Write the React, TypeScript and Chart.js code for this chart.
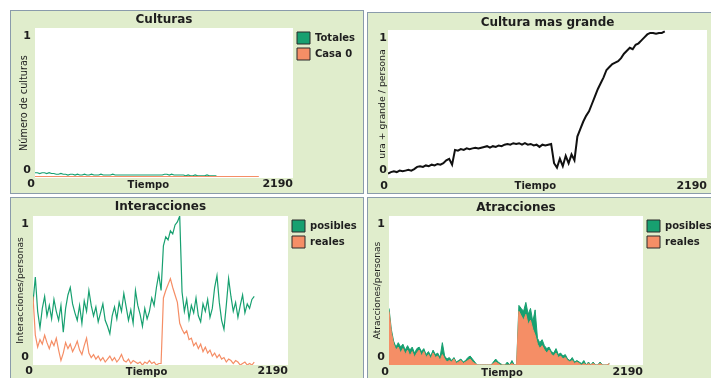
import React, { useEffect, useRef } from 'react';
import { Chart, registerables } from 'chart.js';

Chart.register(...registerables);
Chart.defaults.font.family = "'DejaVu Sans', sans-serif";

// ---------- data ----------
const STEP = 20; // ticks between samples
const X_MAX = 2190;
const X_TICKS = [0, 2190];
const Y_TICKS = [0, 1];
const X_TITLE = 'Tiempo';

// Culturas
const P1_TOTALES = [
  0.035, 0.035, 0.03, 0.035, 0.035, 0.03, 0.035, 0.03, 0.03, 0.025,
  0.025, 0.03, 0.025, 0.025, 0.02, 0.025, 0.025, 0.02, 0.025, 0.02,
  0.02, 0.025, 0.02, 0.02, 0.025, 0.02, 0.02, 0.02, 0.025, 0.02,
  0.02, 0.02, 0.02, 0.025, 0.02, 0.02, 0.02, 0.02, 0.02, 0.02,
  0.02, 0.02, 0.02, 0.02, 0.02, 0.02, 0.02, 0.02, 0.02, 0.02,
  0.02, 0.02, 0.02, 0.02, 0.02, 0.025, 0.025, 0.02, 0.025, 0.02,
  0.02, 0.02, 0.02, 0.02, 0.015, 0.02, 0.015, 0.015, 0.02, 0.015,
  0.015, 0.015, 0.015, 0.02, 0.015, 0.015, 0.015, 0.015,
];
const P1_CASA0 = [
  0.01, 0.01, 0.01, 0.01, 0.01, 0.01, 0.01, 0.01, 0.01, 0.01,
  0.01, 0.01, 0.01, 0.01, 0.01, 0.01, 0.01, 0.01, 0.01, 0.01,
  0.01, 0.01, 0.01, 0.01, 0.01, 0.01, 0.01, 0.01, 0.01, 0.01,
  0.01, 0.01, 0.01, 0.01, 0.01, 0.01, 0.01, 0.01, 0.01, 0.01,
  0.01, 0.01, 0.01, 0.01, 0.01, 0.01, 0.01, 0.01, 0.01, 0.01,
  0.01, 0.01, 0.01, 0.01, 0.01, 0.01, 0.01, 0.01, 0.01, 0.01,
  0.01, 0.01, 0.01, 0.01, 0.01, 0.01, 0.01, 0.01, 0.01, 0.01,
  0.01, 0.01, 0.01, 0.01, 0.01, 0.01, 0.01, 0.01, 0.01, 0.01,
  0.01, 0.01, 0.01, 0.01, 0.01, 0.01, 0.01, 0.01, 0.01, 0.01,
  0.01, 0.01, 0.01, 0.01, 0.01, 0.01,
];

// Cultura mas grande
const P2_GRANDE = [
  0.03, 0.04, 0.045, 0.04, 0.05, 0.045, 0.05, 0.055, 0.05, 0.06,
  0.075, 0.08, 0.075, 0.085, 0.08, 0.09, 0.085, 0.095, 0.09, 0.1,
  0.12, 0.13, 0.09, 0.19, 0.185, 0.195, 0.19, 0.2, 0.195, 0.2,
  0.205, 0.2, 0.205, 0.21, 0.215, 0.205, 0.215, 0.21, 0.22, 0.215,
  0.225, 0.23, 0.225, 0.235, 0.23, 0.235, 0.225, 0.235, 0.225, 0.23,
  0.22, 0.225, 0.21, 0.225, 0.22, 0.225, 0.23, 0.1, 0.07, 0.13,
  0.08, 0.15, 0.1, 0.16, 0.12, 0.28, 0.33, 0.38, 0.42, 0.45,
  0.5, 0.55, 0.6, 0.64, 0.68, 0.73, 0.75, 0.77, 0.78, 0.79,
  0.81, 0.84, 0.86, 0.88, 0.87, 0.9, 0.91, 0.93, 0.95, 0.97,
  0.98, 0.98, 0.975, 0.98, 0.98, 0.99,
];

// Interacciones
const P3_POSIBLES = [
  0.42, 0.59, 0.36, 0.25, 0.38, 0.46, 0.33, 0.40, 0.31, 0.44,
  0.36, 0.30, 0.40, 0.22, 0.38, 0.47, 0.52, 0.41, 0.35, 0.30,
  0.40, 0.28, 0.43, 0.36, 0.50, 0.40, 0.33, 0.39, 0.29, 0.35,
  0.41, 0.30, 0.26, 0.21, 0.33, 0.39, 0.31, 0.42, 0.36, 0.48,
  0.39, 0.30, 0.37, 0.28, 0.50, 0.40, 0.34, 0.26, 0.38, 0.31,
  0.36, 0.45, 0.40, 0.52, 0.61, 0.50, 0.80, 0.86, 0.84, 0.90,
  0.88, 0.94, 0.96, 1.00, 0.49, 0.36, 0.44, 0.31, 0.40, 0.35,
  0.45, 0.33, 0.29, 0.41, 0.36, 0.44, 0.32, 0.38, 0.52, 0.60,
  0.42, 0.30, 0.24, 0.40, 0.58, 0.46, 0.36, 0.42, 0.32, 0.40,
  0.47, 0.35, 0.41, 0.38, 0.44, 0.46,
];
const P3_REALES = [
  0.46, 0.20, 0.12, 0.17, 0.14, 0.20, 0.15, 0.11, 0.16, 0.13,
  0.18, 0.10, 0.03, 0.08, 0.15, 0.11, 0.14, 0.09, 0.12, 0.16,
  0.10, 0.07, 0.13, 0.18, 0.08, 0.05, 0.07, 0.04, 0.06, 0.03,
  0.05, 0.02, 0.04, 0.06, 0.03, 0.05, 0.02, 0.04, 0.07, 0.03,
  0.02, 0.04, 0.01, 0.03, 0.02, 0.01, 0.02, 0.00, 0.02, 0.01,
  0.03, 0.01, 0.02, 0.00, 0.01, 0.01, 0.45, 0.50, 0.54, 0.58,
  0.52, 0.47, 0.42, 0.28, 0.24, 0.21, 0.23, 0.17, 0.18, 0.13,
  0.15, 0.11, 0.14, 0.09, 0.12, 0.08, 0.10, 0.06, 0.08, 0.05,
  0.07, 0.04, 0.05, 0.02, 0.04, 0.03, 0.01, 0.03, 0.02, 0.00,
  0.01, 0.02, 0.00, 0.01, 0.00, 0.02,
];

// Atracciones
const P4_POSIBLES = [
  0.38, 0.24, 0.16, 0.12, 0.15, 0.12, 0.14, 0.10, 0.13, 0.10,
  0.12, 0.08, 0.11, 0.12, 0.09, 0.11, 0.07, 0.09, 0.06, 0.10,
  0.07, 0.08, 0.05, 0.15, 0.06, 0.04, 0.05, 0.03, 0.05, 0.02,
  0.03, 0.04, 0.02, 0.03, 0.05, 0.06, 0.04, 0.02, 0.00, 0.00,
  0.00, 0.00, 0.00, 0.00, 0.00, 0.02, 0.04, 0.02, 0.01, 0.00,
  0.00, 0.02, 0.00, 0.03, 0.00, 0.00, 0.40, 0.38, 0.36, 0.42,
  0.34, 0.38, 0.29, 0.37, 0.18, 0.15, 0.17, 0.13, 0.11, 0.12,
  0.09, 0.08, 0.11, 0.07, 0.08, 0.06, 0.07, 0.04, 0.03, 0.05,
  0.02, 0.03, 0.02, 0.01, 0.03, 0.00, 0.02, 0.00, 0.02, 0.00,
  0.00, 0.02, 0.00, 0.00, 0.00, 0.01,
];
const P4_REALES = [
  0.36, 0.22, 0.14, 0.10, 0.12, 0.08, 0.11, 0.07, 0.10, 0.06,
  0.09, 0.05, 0.08, 0.10, 0.06, 0.09, 0.05, 0.07, 0.04, 0.08,
  0.05, 0.06, 0.03, 0.07, 0.04, 0.02, 0.03, 0.02, 0.04, 0.01,
  0.02, 0.03, 0.01, 0.02, 0.03, 0.04, 0.02, 0.01, 0.00, 0.00,
  0.00, 0.00, 0.00, 0.00, 0.00, 0.01, 0.02, 0.01, 0.00, 0.00,
  0.00, 0.00, 0.00, 0.01, 0.00, 0.00, 0.36, 0.33, 0.30, 0.34,
  0.27, 0.30, 0.24, 0.20, 0.14, 0.11, 0.13, 0.10, 0.08, 0.10,
  0.07, 0.06, 0.08, 0.05, 0.06, 0.04, 0.05, 0.03, 0.02, 0.03,
  0.01, 0.02, 0.01, 0.00, 0.01, 0.00, 0.01, 0.00, 0.01, 0.00,
  0.00, 0.01, 0.00, 0.00, 0.00, 0.01,
];

// ---------- styles ----------
const GREEN = '#17a070';
const ORANGE = '#f58e66';
const BLACK = '#111111';
const TEXT = '#1e1e1e';
const PANEL_BG = '#e0edcc';
const PANEL_BORDER = '#8a9bab';

const series = (values: number[]) => values.map((y, i) => ({ x: i * STEP, y }));

const plotBg = {
  id: 'plotBg',
  beforeDatasetsDraw(chart: any) {
    const { ctx, chartArea: a } = chart;
    ctx.save();
    ctx.fillStyle = '#ffffff';
    ctx.fillRect(a.left, a.top, a.right - a.left, a.bottom - a.top);
    ctx.restore();
  },
};

type Spec = {
  key: string;
  left: number; top: number; width: number; height: number;
  canvasW: number; canvasH: number;
  title: string; titlePad: { top: number; bottom: number };
  yTitle: string; yTitleSize: number; yTitlePad: number; yWidth: number; yTickPad: number;
  xHeight: number; xTickPad: number; xTitlePadB: number; xTitleSpaces: number;
  legendMaxWidth: number | null; layoutRight: number;
  datasets: any[];
};

const lineDs = (label: string, values: number[], color: string, order: number, extra: any = {}) => ({
  label,
  data: series(values),
  borderColor: color,
  backgroundColor: color,
  borderWidth: 1.2,
  pointRadius: 0,
  tension: 0,
  fill: false,
  order,
  ...extra,
});

const SPECS: Spec[] = [
  {
    key: 'p1', left: 10, top: 10, width: 354, height: 184, canvasW: 352, canvasH: 182,
    title: 'Culturas', titlePad: { top: 1.8, bottom: 0.8 },
    yTitle: 'Número de culturas', yTitleSize: 9.7, yTitlePad: 7.4, yWidth: 24, yTickPad: 4,
    xHeight: 15, xTickPad: 0, xTitlePadB: 2, xTitleSpaces: 9,
    legendMaxWidth: 70, layoutRight: 0,
    datasets: [
      lineDs('Totales', P1_TOTALES, GREEN, 2),
      lineDs('Casa 0', P1_CASA0, ORANGE, 1),
    ],
  },
  {
    key: 'p2', left: 367, top: 12, width: 360, height: 182, canvasW: 358, canvasH: 180,
    title: 'Cultura mas grande', titlePad: { top: 2.6, bottom: 0 },
    yTitle: 'ura + grande / persona', yTitleSize: 9.4, yTitlePad: 9.4, yWidth: 20, yTickPad: 1,
    xHeight: 15, xTickPad: 2, xTitlePadB: 0.3, xTitleSpaces: 7,
    legendMaxWidth: null, layoutRight: 19,
    datasets: [lineDs('Cultura mas grande', P2_GRANDE, BLACK, 1, { borderWidth: 2 })],
  },
  {
    key: 'p3', left: 10, top: 197, width: 354, height: 190, canvasW: 352, canvasH: 182,
    title: 'Interacciones', titlePad: { top: 1.5, bottom: 2.1 },
    yTitle: 'Interacciones/personas', yTitleSize: 9.2, yTitlePad: 3.9, yWidth: 22, yTickPad: 4,
    xHeight: 15, xTickPad: 0, xTitlePadB: 1.3, xTitleSpaces: 8,
    legendMaxWidth: 75, layoutRight: 0,
    datasets: [
      lineDs('posibles', P3_POSIBLES, GREEN, 2),
      lineDs('reales', P3_REALES, ORANGE, 1),
    ],
  },
  {
    key: 'p4', left: 367, top: 197, width: 360, height: 190, canvasW: 350, canvasH: 182,
    title: 'Atracciones', titlePad: { top: 2.8, bottom: 0.8 },
    yTitle: 'Atracciones/personas', yTitleSize: 9.1, yTitlePad: 3.9, yWidth: 21, yTickPad: 4,
    xHeight: 15, xTickPad: 1, xTitlePadB: 0.7, xTitleSpaces: 8,
    legendMaxWidth: 75, layoutRight: 0,
    datasets: [
      lineDs('posibles', P4_POSIBLES, GREEN, 2, { fill: 'origin', borderWidth: 1 }),
      lineDs('reales', P4_REALES, ORANGE, 1, { fill: 'origin', borderWidth: 1 }),
    ],
  },
];

const Y_MAX = Y_TICKS[Y_TICKS.length - 1];

function buildConfig(s: Spec): any {
  return {
    type: 'line',
    data: { datasets: s.datasets },
    plugins: [plotBg],
    options: {
      responsive: false,
      animation: false,
      events: [],
      layout: { padding: { left: 0, top: 0, bottom: 0, right: s.layoutRight } },
      plugins: {
        title: {
          display: true,
          text: s.title,
          fullSize: false,
          color: TEXT,
          font: { size: 12, weight: 'bold', lineHeight: 1.2 },
          padding: s.titlePad,
        },
        legend: s.legendMaxWidth
          ? {
              display: true,
              position: 'right',
              align: 'start',
              fullSize: false,
              maxWidth: s.legendMaxWidth,
              labels: {
                boxWidth: 13,
                boxHeight: 12,
                padding: 4,
                color: TEXT,
                font: { size: 10, weight: 'bold' },
                sort: (a: any, b: any) => a.datasetIndex - b.datasetIndex,
                generateLabels: (chart: any) =>
                  Chart.defaults.plugins.legend.labels.generateLabels(chart).map((l: any) => ({
                    ...l,
                    strokeStyle: '#2a2a2a',
                    lineWidth: 1,
                  })),
              },
            }
          : { display: false },
        tooltip: { enabled: false },
      },
      scales: {
        x: {
          type: 'linear',
          min: 0,
          max: X_MAX,
          bounds: 'data',
          grid: { display: false, drawTicks: false, tickLength: 0 },
          border: { display: false },
          afterBuildTicks: (scale: any) => {
            scale.ticks = X_TICKS.map((v) => ({ value: v }));
          },
          afterFit: (scale: any) => {
            scale.height = s.xHeight;
            scale.paddingLeft = 0;
            scale.paddingRight = 0;
          },
          ticks: {
            align: 'end',
            padding: s.xTickPad,
            maxRotation: 0,
            autoSkip: false,
            color: TEXT,
            font: { size: 11, weight: 'bold', lineHeight: 1.2 },
            callback: (v: any) => String(v),
          },
          title: {
            display: true,
            text: X_TITLE + ' '.repeat(s.xTitleSpaces),
            color: TEXT,
            font: { size: 10, weight: 'bold', lineHeight: 1.2 },
            padding: { top: 0, bottom: s.xTitlePadB },
          },
        },
        y: {
          type: 'linear',
          min: 0,
          max: Y_MAX,
          bounds: 'data',
          grid: { display: false, drawTicks: false, tickLength: 0 },
          border: { display: false },
          afterBuildTicks: (scale: any) => {
            scale.ticks = Y_TICKS.map((v) => ({ value: v }));
          },
          afterFit: (scale: any) => {
            scale.width = s.yWidth;
            scale.paddingTop = 0;
            scale.paddingBottom = 0;
          },
          ticks: {
            padding: s.yTickPad,
            autoSkip: false,
            color: TEXT,
            font: { size: 11, weight: 'bold', lineHeight: 1.5 },
            callback: (v: any) => (v === Y_MAX ? ['', String(v)] : [String(v), '']),
          },
          title: {
            display: true,
            text: s.yTitle,
            color: TEXT,
            font: { size: s.yTitleSize, lineHeight: 1.2 },
            padding: { top: s.yTitlePad, bottom: 0 },
          },
        },
      },
    },
  };
}

function Panel({ spec }: { spec: Spec }) {
  const ref = useRef<HTMLCanvasElement | null>(null);
  useEffect(() => {
    if (!ref.current) return;
    const chart = new Chart(ref.current, buildConfig(spec));
    return () => chart.destroy();
  }, [spec]);
  return (
    <div
      style={{
        position: 'absolute',
        left: spec.left,
        top: spec.top,
        width: spec.width,
        height: spec.height,
        boxSizing: 'border-box',
        border: `1px solid ${PANEL_BORDER}`,
        background: PANEL_BG,
        overflow: 'hidden',
      }}
    >
      <canvas
        ref={ref}
        width={spec.canvasW}
        height={spec.canvasH}
        style={{ position: 'absolute', left: 0, top: 0, width: spec.canvasW, height: spec.canvasH }}
      />
    </div>
  );
}

export default function App() {
  return (
    <div
      style={{
        position: 'fixed',
        left: 0,
        top: 0,
        width: 711,
        height: 378,
        overflow: 'hidden',
        background: '#ffffff',
      }}
    >
      {SPECS.map((s) => (
        <Panel key={s.key} spec={s} />
      ))}
    </div>
  );
}
